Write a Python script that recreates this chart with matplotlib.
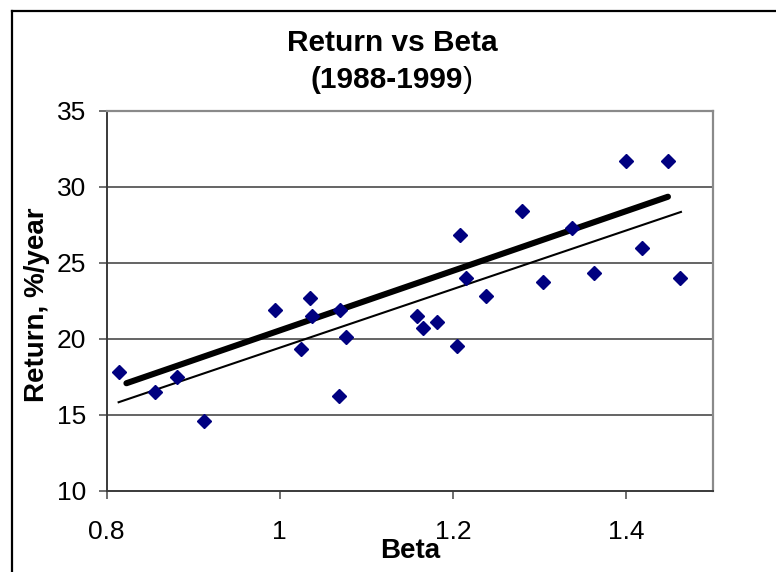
"""Return vs Beta scatter with fitted line and market line."""

import matplotlib.pyplot as plt
from matplotlib.lines import Line2D

plt.rcParams['font.family'] = ['Liberation Sans', 'DejaVu Sans']

# fund betas and annual returns, 1988-1999
beta = [0.814, 0.856, 0.881, 0.913, 0.994, 1.024, 1.035, 1.037, 1.068, 1.070,
        1.076, 1.158, 1.165, 1.181, 1.204, 1.208, 1.215, 1.238, 1.280, 1.304,
        1.337, 1.363, 1.400, 1.418, 1.448, 1.462]
ret = [17.8, 16.5, 17.5, 14.6, 21.9, 19.3, 22.7, 21.5, 16.2, 21.9,
       20.1, 21.5, 20.7, 21.1, 19.5, 26.8, 24.0, 22.8, 28.4, 23.7,
       27.3, 24.3, 31.7, 26.0, 31.7, 24.0]

# fitted trend line (thick) and market line (thin), end points
fit_beta = [0.823, 1.448]
fit_ret = [17.07, 29.34]
sml_beta = [0.814, 1.463]
sml_ret = [15.82, 28.34]

x_ticks = [0.8, 1.0, 1.2, 1.4]
x_tick_labels = ['0.8', '1', '1.2', '1.4']
y_ticks = [10, 15, 20, 25, 30, 35]

W, H = 776, 572
fig = plt.figure(figsize=(W / 100, H / 100), dpi=100)
ax = fig.add_axes([106.5 / W, 1 - 490.7 / H, (713 - 106.5) / W, (490.7 - 110.7) / H])

ax.set_xlim(0.8, 1.5)
ax.set_ylim(10, 35)
ax.set_xticks(x_ticks)
ax.set_xticklabels(x_tick_labels)
ax.set_yticks(y_ticks)

for y in y_ticks[1:-1]:
    ax.axhline(y, color='#3a3a3a', lw=1.1, zorder=1)

ax.plot(fit_beta, fit_ret, color='black', lw=4.4, solid_capstyle='round', zorder=3)
ax.plot(sml_beta, sml_ret, color='black', lw=1.5, zorder=3)
ax.plot(beta, ret, 'D', color='#000080', ms=7.4, mec='#000080', zorder=4, clip_on=False)

for side in ['left', 'bottom']:
    ax.spines[side].set_color('#3a3a3a')
    ax.spines[side].set_linewidth(1.4)
for side in ['top', 'right']:
    ax.spines[side].set_color('#8a8a8a')
    ax.spines[side].set_linewidth(1.6)

ax.tick_params(axis='both', direction='out', length=5.8, width=1.2, color='#555555',
               labelsize=19)
ax.tick_params(axis='y', pad=9)
ax.tick_params(axis='x', pad=15)

# axis titles
fig.text(37 / W, 1 - 305 / H, 'Return, %/year', rotation=90, fontsize=20,
         fontweight='bold', ha='center', va='center')
fig.text(410 / W, 1 - 551 / H, 'Beta', fontsize=20, fontweight='bold',
         ha='center', va='center')

# chart title, closing bracket in regular weight
fig.text(392 / W, 1 - 43 / H, 'Return vs Beta', fontsize=21.5, fontweight='bold',
         ha='center', va='center')
sub = fig.text(387 / W, 1 - 80 / H, '(1988-1999', fontsize=21.5, fontweight='bold',
               ha='center', va='center')
fig.add_artist(plt.Annotation(')', xy=(1, 0.5), xycoords=sub, fontsize=21.5,
                              ha='left', va='center'))

# outer chart frame
fig.add_artist(Line2D([12 / W, 12 / W], [0, 1 - 11 / H], color='black', lw=1.6))
fig.add_artist(Line2D([12 / W, 1], [1 - 11 / H, 1 - 11 / H], color='black', lw=1.6))

fig.savefig('out.png', dpi=100)
